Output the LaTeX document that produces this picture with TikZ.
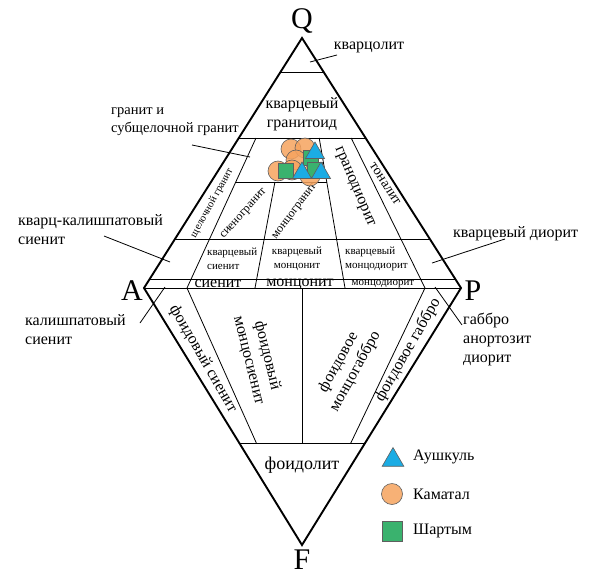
\documentclass[tikz,border=0pt]{standalone}
\usepackage{fontspec}
\setmainfont{Liberation Serif}
\usetikzlibrary{calc,shapes.geometric}
\definecolor{tricol}{RGB}{27,172,228}
\definecolor{circcol}{RGB}{246,163,94}
\definecolor{sqcol}{RGB}{58,178,110}
\definecolor{symline}{RGB}{95,95,95}
\begin{document}
\begin{tikzpicture}[x=1pt,y=-1pt,
  edge/.style={line width=1.9pt,line join=miter,miter limit=20},
  inner/.style={line width=0.8pt},
  lead/.style={line width=0.8pt},
  t30/.style={inner sep=0pt,font=\fontsize{30}{34}\selectfont},
  t18/.style={inner sep=0pt,font=\fontsize{18}{21}\selectfont},
  t16/.style={inner sep=0pt,font=\fontsize{16}{19}\selectfont},
  t15/.style={inner sep=0pt,font=\fontsize{14.5}{18}\selectfont},
  t14/.style={inner sep=0pt,font=\fontsize{14}{17}\selectfont},
  t12/.style={inner sep=0pt,font=\fontsize{12}{15}\selectfont},
  t11/.style={inner sep=0pt,font=\fontsize{11}{13.5}\selectfont},
  t10/.style={inner sep=0pt,font=\fontsize{10.5}{12}\selectfont},
  mtri/.style={regular polygon,regular polygon sides=3,draw=symline,fill=tricol,line width=0.6pt,inner sep=0pt,minimum size=#1},
  mcirc/.style={circle,draw=symline,fill=circcol,fill opacity=0.85,line width=0.6pt,inner sep=0pt,minimum size=#1},
  msq/.style={rectangle,draw=symline,fill=sqcol,line width=0.6pt,inner sep=0pt,minimum size=#1},
]
\useasboundingbox (0,0) rectangle (592,576);
% vertices
\coordinate (Q) at (302,38);
\coordinate (A) at (144,288);
\coordinate (P) at (461,288);
\coordinate (F) at (302,545);
\coordinate (b10) at (187,288);
\coordinate (b35) at (255,288);
\coordinate (b50) at (302,288);
\coordinate (b65) at (345,288);
\coordinate (b90) at (425,288);
% upper horizontals
\draw[inner] ($(Q)!0.136!(A)$) -- ($(Q)!0.136!(P)$);
\draw[inner] ($(Q)!0.4!(A)$) -- ($(Q)!0.4!(P)$);
\draw[inner] ($(Q)!0.804!(A)$) -- ($(Q)!0.804!(P)$);
\draw[inner] ($(Q)!0.964!(A)$) -- ($(Q)!0.964!(P)$);
\draw[inner] (A) -- (P);
% upper radials
\draw[inner] ($(Q)!0.4!(b10)$) -- (b10);
\draw[inner] ($(Q)!0.576!(b35)$) -- (b35);
\draw[inner] ($(Q)!0.4!(b65)$) -- (b65);
\draw[inner] ($(Q)!0.4!(b90)$) -- (b90);
\draw[inner] ($(Q)!0.576!(b10)$) -- ($(Q)!0.576!(b65)$);
% lower
\draw[inner] (b10) -- ($(b10)!0.603!(F)$);
\draw[inner] (b50) -- ($(b50)!0.603!(F)$);
\draw[inner] (b90) -- ($(b90)!0.603!(F)$);
\draw[inner] ($(A)!0.603!(F)$) -- ($(P)!0.603!(F)$);
% outline
\draw[edge] (Q) -- (P) -- (F) -- (A) -- cycle;
% vertex labels
\node[t30,anchor=base] (lQ) at (302,28) {Q};
\node[t30,anchor=base] (lA) at (132,300) {A};
\node[t30,anchor=base] (lP) at (473,300) {P};
\node[t30,anchor=base] (lF) at (302,569) {F};
% field labels
\node[t16] (nQz) at (369,47) {кварцолит};
\node[t16,align=center] (nQg) at (302,114) {кварцевый\\гранитоид};
\node[t10,rotate=61] (nAfg) at (212,203) {щелочной гранит};
\node[t12,rotate=48] (nSg) at (244,214) {сиеногранит};
\node[t12,rotate=53] (nMg) at (295,212) {монцогранит};
\node[t16,rotate=-67] (nGd) at (354,187) {гранодиорит};
\node[t14,rotate=-57] (nTo) at (385,184) {тоналит};
\node[t11,align=left,anchor=west] (nQs) at (207,259) {кварцевый\\сиенит};
\node[t11,align=center] (nQm) at (297,259) {кварцевый\\монцонит};
\node[t11,align=left,anchor=west] (nQmd) at (345,259) {кварцевый\\монцодиорит};
\node[t16] (nS) at (218,284) {сиенит};
\node[t16] (nM) at (300,284) {монцонит};
\node[t11] (nMd) at (383,284) {монцодиорит};
\node[t16,rotate=-60] (nFs) at (203,359) {фоидовый сиенит};
\node[t16,align=center,rotate=-76] (nFms) at (258,358) {фоидовый\\монцосиенит};
\node[t16,align=center,rotate=61] (nFmg) at (347,367) {фоидовое\\монцогаббро};
\node[t16,rotate=60] (nFg) at (408,350) {фоидовое габбро};
\node[t18] (nFo) at (302,465) {фоидолит};
% outside labels
\node[t15,align=left,anchor=east] (nGr) at (239,122) {гранит и\\субщелочной гранит};
\node[t16,align=left,anchor=west] (nQas) at (18,230) {кварц-калишпатовый\\сиенит};
\node[t16,align=left,anchor=west] (nAs) at (25,330) {калишпатовый\\сиенит};
\node[t16,anchor=west] (nQd) at (453,234) {кварцевый диорит};
\node[t16,align=left,anchor=west] (nGab) at (463,339) {габбро\\анортозит\\диорит};
% leaders
\coordinate (kQz1) at (310,62);
\coordinate (kQz2) at (337,55);
\draw[lead] (kQz1) -- (kQz2);
\coordinate (kGr1) at (192,145);
\coordinate (kGr2) at (250,157);
\draw[lead] (kGr1) -- (kGr2);
\coordinate (kQas1) at (104,236);
\coordinate (kQas2) at (170,262);
\draw[lead] (kQas1) -- (kQas2);
\coordinate (kAs1) at (140,323);
\coordinate (kAs2) at (165,287);
\draw[lead] (kAs1) -- (kAs2);
\coordinate (kQd1) at (432,263);
\coordinate (kQd2) at (505,239);
\draw[lead] (kQd1) -- (kQd2);
\coordinate (kGab1) at (435,287);
\coordinate (kGab2) at (462,325);
\draw[lead] (kGab1) -- (kGab2);
% data symbols
\node[mcirc=20] (c1) at (291,149) {};
\node[mcirc=20] (c2) at (305,148) {};
\node[mcirc=20] (c3) at (296,160) {};
\node[mcirc=20] (c4) at (278,171) {};
\node[mcirc=20] (c5) at (292,170) {};
\node[mcirc=20] (c6) at (310,176) {};
\node[msq=15] (s1) at (286,171) {};
\node[msq=15] (s2) at (311,158) {};
\node[msq=15] (s3) at (315,170) {};
\node[mtri=22] (tr1) at (315,153) {};
\node[mtri=22] (tr2) at (302,173) {};
\node[mtri=22] (tr3) at (321,173) {};
% legend
\node[mtri=25] (lg1) at (393,460) {};
\node[mcirc=21] (lg2) at (392,494) {};
\node[msq=20] (lg3) at (392,531) {};
\node[t16,anchor=west] (lt1) at (413,457) {Аушкуль};
\node[t16,anchor=west] (lt2) at (413,494) {Каматал};
\node[t16,anchor=west] (lt3) at (413,531) {Шартым};
\end{tikzpicture}
\end{document}
